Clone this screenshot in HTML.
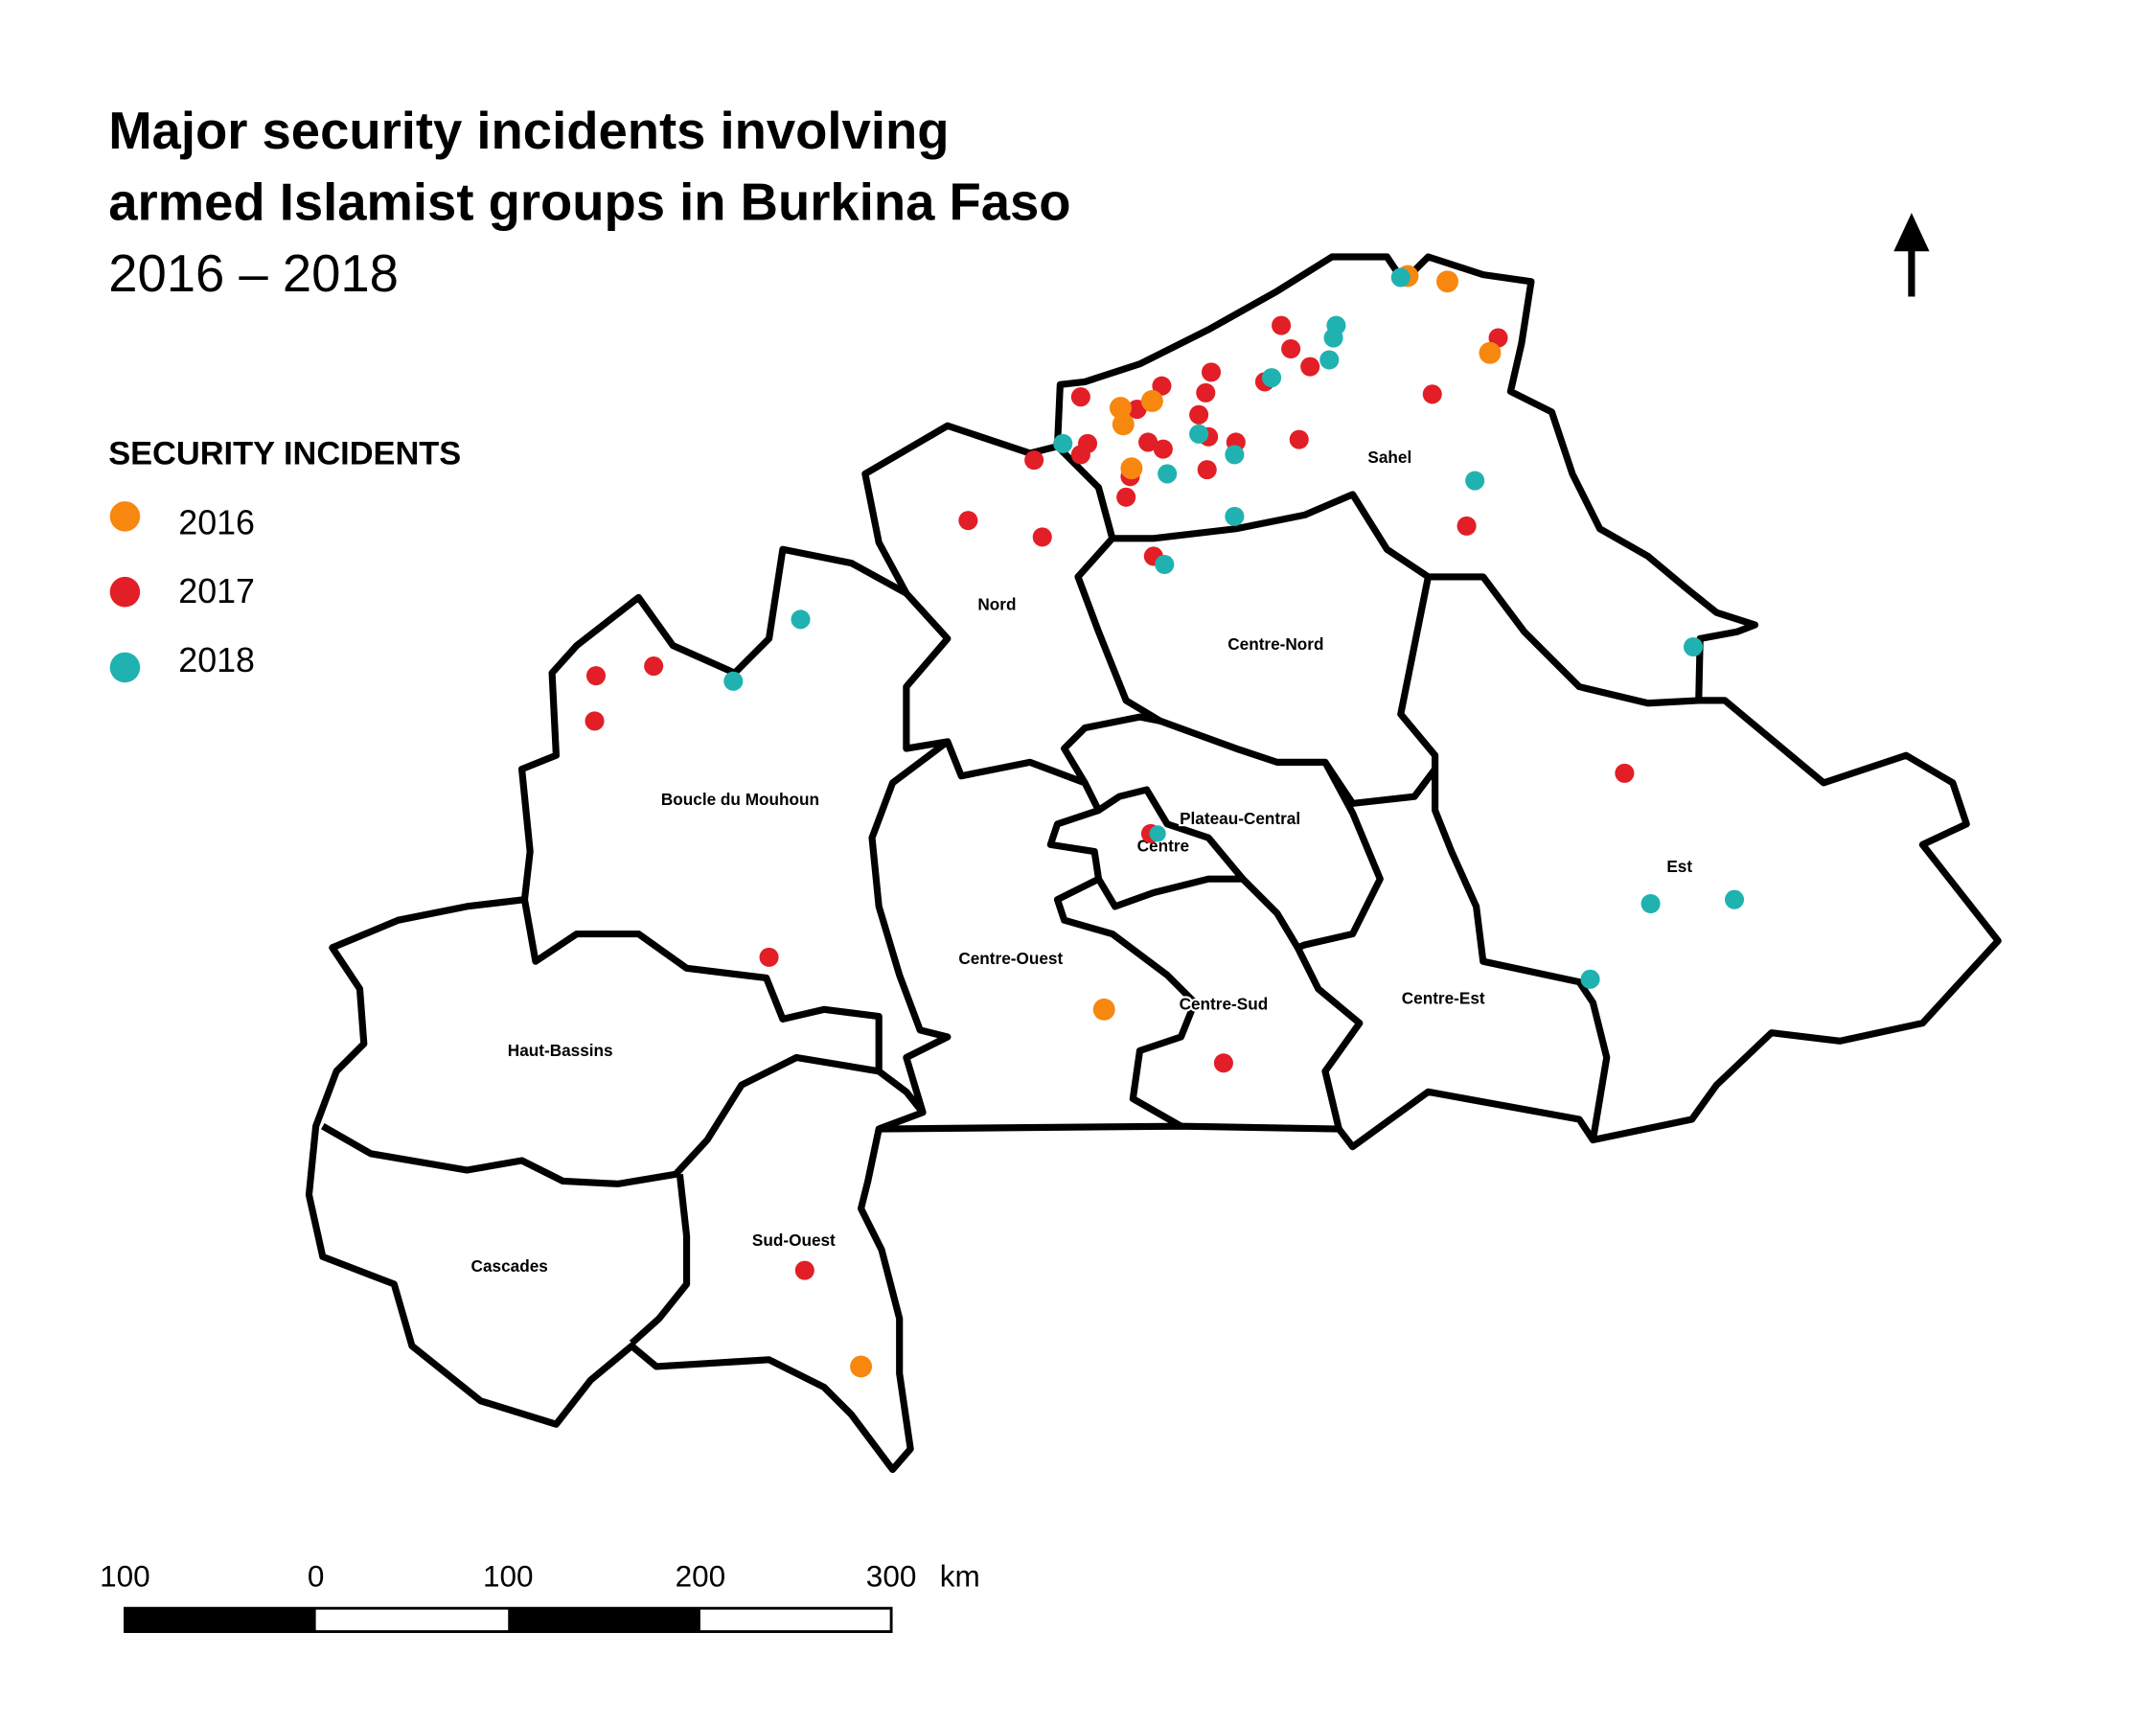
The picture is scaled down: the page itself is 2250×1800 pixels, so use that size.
<!DOCTYPE html>
<html><head><meta charset="utf-8"><style>
html,body{margin:0;padding:0;background:#fff;}
svg{display:block}
.t{font-family:"Liberation Sans",sans-serif;}
.lb{font-family:"Liberation Sans",sans-serif;font-weight:bold;font-size:12px;fill:#000;paint-order:stroke;stroke:#fff;stroke-width:3px;}
</style></head><body>
<svg width="2250" height="1800" viewBox="0 0 1570 1256" xmlns="http://www.w3.org/2000/svg">
<rect width="1570" height="1256" fill="#fff"/>
<text class="t" x="79" y="108" font-size="38" font-weight="bold">Major security incidents involving</text>
<text class="t" x="79" y="160" font-size="38" font-weight="bold">armed Islamist groups in Burkina Faso</text>
<text class="t" x="79" y="212" font-size="38">2016 – 2018</text>
<text class="t" x="79" y="338" font-size="24" font-weight="bold">SECURITY INCIDENTS</text>
<circle cx="91" cy="376" r="11" fill="#f7870f"/><text class="t" x="130" y="389" font-size="25">2016</text>
<circle cx="91" cy="431" r="11" fill="#e21f26"/><text class="t" x="130" y="439" font-size="25">2017</text>
<circle cx="91" cy="486" r="11" fill="#20b2b0"/><text class="t" x="130" y="489" font-size="25">2018</text>
<line x1="1392" y1="216" x2="1392" y2="175" stroke="#000" stroke-width="5"/>
<polygon points="1379,183 1392,155 1405,183" fill="#000"/>
<g fill="none" stroke="#000" stroke-width="5" stroke-linejoin="round">
<path d="M772,280 L790,278 L830,265 L880,240 L930,212 L970,187 L1010,187 L1022,205 L1040,187 L1080,200 L1115,205 L1108,250 L1100,285 L1130,300 L1145,345 L1165,385 L1200,405 L1230,430 L1250,446 L1278,455 L1265,460 L1238,465 L1237,510 L1256,510 L1328,570 L1388,550 L1422,570 L1432,600 L1400,615 L1455,685 L1400,745 L1340,758 L1290,752 L1250,790 L1232,815 L1160,830 L1150,815 L1040,795 L985,835 L975,822 L860,820 L640,822 L632,860 L627,880 L642,910 L655,960 L655,1000 L663,1055 L650,1070 L620,1030 L600,1010 L560,990 L478,995 L460,980 L430,1005 L405,1037 L350,1020 L300,980 L287,935 L235,915 L225,870 L230,820 L245,780 L265,760 L262,720 L242,690 L290,670 L340,660 L382,655 L386,620 L380,560 L405,550 L402,490 L420,470 L465,435 L490,470 L535,490 L560,465 L570,400 L620,410 L660,432 L640,395 L630,345 L690,310 L750,330 L770,325 Z"/>
<path d="M770,325 L800,355 L810,392 L840,392 L900,385 L950,375 L985,360 L1010,400 L1040,420 L1080,420 L1110,460 L1150,500 L1200,512 L1237,510"/>
<path d="M1040,420 L1030,470 L1020,520 L1045,550 L1045,590 L1057,620 L1075,660 L1080,700 L1150,715 L1160,730 L1170,770 L1160,830"/>
<path d="M810,392 L785,420 L800,460 L820,510 L845,525 L900,545 L930,555 L965,555 L985,585 L1030,580 L1045,560"/>
<path d="M660,432 L690,465 L660,500 L660,545 L690,540 L700,565 L750,555 L790,570 L775,545 L790,530 L830,522 L845,525"/>
<path d="M690,540 L650,570 L635,610 L640,660 L655,710 L670,750 L690,755 L660,770 L672,810 L640,822"/>
<path d="M382,655 L390,700 L420,680 L465,680 L500,705 L558,712 L570,742 L600,735 L640,740 L640,780"/>
<path d="M640,780 L580,770 L540,790 L515,830 L492,855 L450,862 L410,860 L380,845 L340,852 L270,840 L235,820"/>
<path d="M495,855 L500,900 L500,935 L480,960 L460,978"/>
<path d="M640,780 L660,795 L672,810"/>
<path d="M790,570 L800,590 L770,600 L765,615 L797,620 L800,640 L770,655 L775,670 L810,680 L850,710 L870,730 L860,755 L830,765 L825,800 L860,820"/>
<path d="M800,640 L812,660 L840,650 L880,640 L905,640 L880,610 L850,600 L835,575 L815,580 L800,590"/>
<path d="M905,640 L930,665 L945,690 L960,720 L990,745 L965,780 L975,822"/>
<path d="M965,555 L985,592 L1005,640 L985,680 L950,688 L945,690"/>
</g>
<g class="lb">
<text x="1012" y="337" text-anchor="middle">Sahel</text>
<text x="726" y="444" text-anchor="middle">Nord</text>
<text x="929" y="473" text-anchor="middle">Centre-Nord</text>
<text x="539" y="586" text-anchor="middle">Boucle du Mouhoun</text>
<text x="903" y="600" text-anchor="middle">Plateau-Central</text>
<text x="847" y="620" text-anchor="middle">Centre</text>
<text x="1223" y="635" text-anchor="middle">Est</text>
<text x="736" y="702" text-anchor="middle">Centre-Ouest</text>
<text x="891" y="735" text-anchor="middle">Centre-Sud</text>
<text x="1051" y="731" text-anchor="middle">Centre-Est</text>
<text x="408" y="769" text-anchor="middle">Haut-Bassins</text>
<text x="578" y="907" text-anchor="middle">Sud-Ouest</text>
<text x="371" y="926" text-anchor="middle">Cascades</text>
</g>
<g fill="#e21f26">
<circle cx="933" cy="237" r="7"/><circle cx="940" cy="254" r="7"/><circle cx="954" cy="267" r="7"/><circle cx="921" cy="278" r="7"/>
<circle cx="882" cy="271" r="7"/><circle cx="878" cy="286" r="7"/><circle cx="873" cy="302" r="7"/><circle cx="880" cy="318" r="7"/>
<circle cx="900" cy="322" r="7"/><circle cx="946" cy="320" r="7"/><circle cx="879" cy="342" r="7"/><circle cx="846" cy="281" r="7"/>
<circle cx="787" cy="289" r="7"/><circle cx="828" cy="298" r="7"/><circle cx="792" cy="323" r="7"/><circle cx="787" cy="331" r="7"/>
<circle cx="836" cy="322" r="7"/><circle cx="847" cy="327" r="7"/><circle cx="823" cy="347" r="7"/><circle cx="820" cy="362" r="7"/>
<circle cx="753" cy="335" r="7"/><circle cx="1091" cy="246" r="7"/><circle cx="1043" cy="287" r="7"/><circle cx="1068" cy="383" r="7"/>
<circle cx="705" cy="379" r="7"/><circle cx="759" cy="391" r="7"/><circle cx="840" cy="405" r="7"/>
<circle cx="434" cy="492" r="7"/><circle cx="476" cy="485" r="7"/><circle cx="433" cy="525" r="7"/>
<circle cx="1183" cy="563" r="7"/><circle cx="838" cy="607" r="7"/><circle cx="560" cy="697" r="7"/>
<circle cx="891" cy="774" r="7"/><circle cx="586" cy="925" r="7"/>
</g>
<g fill="#f7870f">
<circle cx="1025" cy="201" r="8"/><circle cx="1054" cy="205" r="8"/><circle cx="1085" cy="257" r="8"/>
<circle cx="816" cy="297" r="8"/><circle cx="839" cy="292" r="8"/><circle cx="818" cy="309" r="8"/><circle cx="824" cy="341" r="8"/>
<circle cx="804" cy="735" r="8"/><circle cx="627" cy="995" r="8"/>
</g>
<g fill="#20b2b0">
<circle cx="1020" cy="202" r="7"/><circle cx="973" cy="237" r="7"/><circle cx="971" cy="246" r="7"/><circle cx="968" cy="262" r="7"/>
<circle cx="926" cy="275" r="7"/><circle cx="873" cy="316" r="7"/><circle cx="899" cy="331" r="7"/><circle cx="850" cy="345" r="7"/>
<circle cx="774" cy="323" r="7"/><circle cx="899" cy="376" r="7"/><circle cx="1074" cy="350" r="7"/><circle cx="848" cy="411" r="7"/>
<circle cx="583" cy="451" r="7"/><circle cx="534" cy="496" r="7"/><circle cx="1233" cy="471" r="7"/><circle cx="843" cy="607" r="6"/>
<circle cx="1202" cy="658" r="7"/><circle cx="1263" cy="655" r="7"/><circle cx="1158" cy="713" r="7"/>
</g>
<g class="t" font-size="22" text-anchor="middle">
<text x="91" y="1155">100</text><text x="230" y="1155">0</text><text x="370" y="1155">100</text>
<text x="510" y="1155">200</text><text x="649" y="1155">300</text><text x="699" y="1155">km</text>
</g>
<rect x="91" y="1171" width="558" height="17" fill="#fff" stroke="#000" stroke-width="2"/>
<rect x="91" y="1171" width="139" height="17" fill="#000"/>
<rect x="370" y="1171" width="140" height="17" fill="#000"/>
</svg>
</body></html>
